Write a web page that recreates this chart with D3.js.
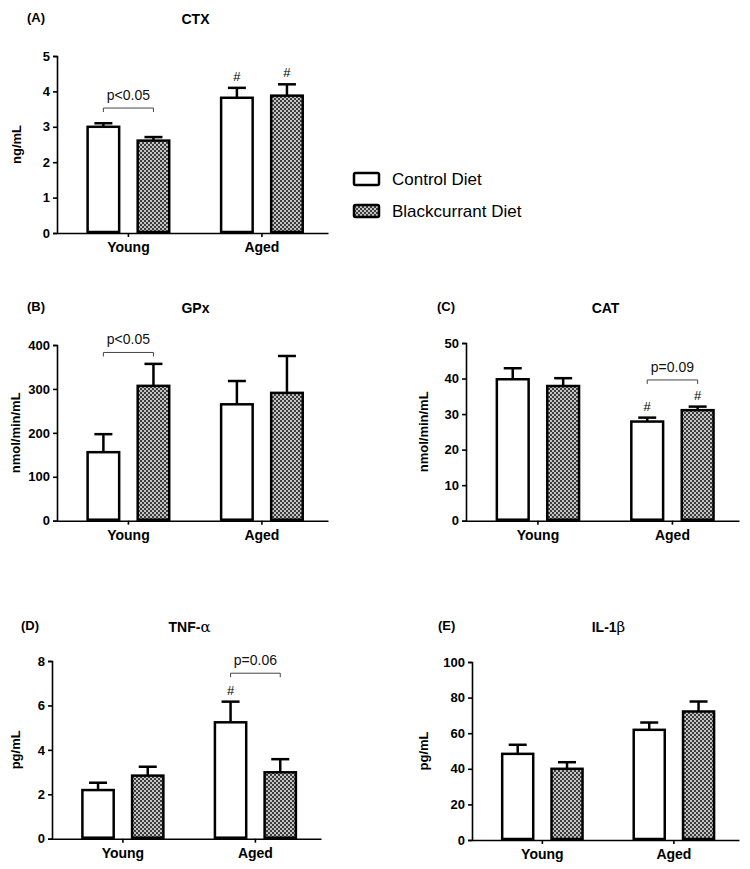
<!DOCTYPE html>
<html>
<head>
<meta charset="utf-8">
<script src="https://cdn.jsdelivr.net/npm/d3@7"></script>
<style>
  html, body { margin: 0; padding: 0; background: #fff; }
  svg { display: block; font-family: Arial, "Liberation Sans", sans-serif; }
</style>
</head>
<body>
<svg id="chart" width="750" height="869"></svg>
<script>
// ---------- data ----------
const groups = ["Young", "Aged"];
const seriesNames = ["Control Diet", "Blackcurrant Diet"];

const ctxControl = [3.0, 3.82];
const ctxControlErr = [0.1, 0.28];
const ctxBlack = [2.61, 3.88];
const ctxBlackErr = [0.1, 0.32];
const ctxTicks = [0, 1, 2, 3, 4, 5];

const gpxControl = [156, 265];
const gpxControlErr = [41, 53];
const gpxBlack = [307, 291];
const gpxBlackErr = [50, 84];
const gpxTicks = [0, 100, 200, 300, 400];

const catControl = [39.8, 27.9];
const catControlErr = [3.1, 1.1];
const catBlack = [37.9, 31.1];
const catBlackErr = [2.2, 1.0];
const catTicks = [0, 10, 20, 30, 40, 50];

const tnfControl = [2.19, 5.24];
const tnfControlErr = [0.33, 0.93];
const tnfBlack = [2.84, 2.99];
const tnfBlackErr = [0.4, 0.59];
const tnfTicks = [0, 2, 4, 6, 8];

const il1Control = [48.4, 61.9];
const il1ControlErr = [5.1, 4.1];
const il1Black = [40.0, 72.2];
const il1BlackErr = [3.7, 5.6];
const il1Ticks = [0, 20, 40, 60, 80, 100];

// significance marks "#": [groupIndex, seriesIndex]
const ctxHash = [[1, 0], [1, 1]];
const catHash = [[1, 0], [1, 1]];
const tnfHash = [[1, 0]];

// brackets: group, label, level (data units)
const ctxBracket = { group: 0, label: "p<0.05", level: 3.53 };
const gpxBracket = { group: 0, label: "p<0.05", level: 383 };
const catBracket = { group: 1, label: "p=0.09", level: 39.6 };
const tnfBracket = { group: 1, label: "p=0.06", level: 7.45 };

// ---------- drawing ----------
const svg = d3.select("#chart");
const defs = svg.append("defs");
const pat = defs.append("pattern").attr("id", "checker")
  .attr("patternUnits", "userSpaceOnUse").attr("width", 4).attr("height", 4);
pat.append("rect").attr("width", 4).attr("height", 4).attr("fill", "#c4c4c4");
pat.append("rect").attr("x", 0).attr("y", 0).attr("width", 2).attr("height", 2).attr("fill", "#3c3c3c");
pat.append("rect").attr("x", 2).attr("y", 2).attr("width", 2).attr("height", 2).attr("fill", "#3c3c3c");

const fills = ["#ffffff", "url(#checker)"];

function panel(cfg) {
  const { x0, x1, yTop, yBot, ticks, series, errs, hashes, bracket } = cfg;
  const g = svg.append("g");
  const y = d3.scaleLinear().domain([0, d3.max(ticks)]).range([yBot, yTop]);
  const xg = d3.scaleBand().domain(groups).range([x0, x1])
    .paddingInner(0.37).paddingOuter(0.2).align(0.55);
  const xs = d3.scaleBand().domain(seriesNames).range([0, xg.bandwidth()]).paddingInner(0.32);

  // y axis
  const yAxis = g.append("g").attr("transform", `translate(${x0},0)`)
    .call(d3.axisLeft(y).tickValues(ticks).tickSize(4).tickPadding(3).tickFormat(d3.format("d")));
  yAxis.select(".domain").attr("stroke", "#000").attr("stroke-width", 1.6);
  yAxis.selectAll(".tick line").attr("stroke", "#000").attr("stroke-width", 1.6);
  yAxis.selectAll("text").attr("font-size", 13).attr("font-weight", "bold")
    .attr("font-family", "Arial, 'Liberation Sans', sans-serif").attr("fill", "#000");

  // x axis
  const xAxis = g.append("g").attr("transform", `translate(0,${yBot})`)
    .call(d3.axisBottom(xg).tickSize(4).tickSizeOuter(0).tickPadding(5));
  xAxis.select(".domain").attr("stroke", "#000").attr("stroke-width", 1.6);
  xAxis.selectAll(".tick line").attr("stroke", "#000").attr("stroke-width", 1.6);
  xAxis.selectAll("text").attr("font-size", 14).attr("font-weight", "bold")
    .attr("font-family", "Arial, 'Liberation Sans', sans-serif").attr("fill", "#000");

  // bars
  const rows = [];
  groups.forEach((gr, gi) => {
    seriesNames.forEach((s, si) => {
      rows.push({ gr, gi, s, si, v: series[si][gi], e: errs[si][gi] });
    });
  });
  const bx = d => xg(d.gr) + xs(d.s);
  const bw = xs.bandwidth();

  // error bars (up only)
  g.selectAll(".err").data(rows).join("line")
    .attr("x1", d => bx(d) + bw / 2).attr("x2", d => bx(d) + bw / 2)
    .attr("y1", d => y(d.v)).attr("y2", d => y(d.v + d.e))
    .attr("stroke", "#000").attr("stroke-width", 2.5);
  g.selectAll(".cap").data(rows).join("line")
    .attr("x1", d => bx(d) + bw / 2 - 9).attr("x2", d => bx(d) + bw / 2 + 9)
    .attr("y1", d => y(d.v + d.e)).attr("y2", d => y(d.v + d.e))
    .attr("stroke", "#000").attr("stroke-width", 2.5);

  g.selectAll(".bar").data(rows).join("rect")
    .attr("x", d => bx(d) + 1.25).attr("width", bw - 2.5)
    .attr("y", d => y(d.v)).attr("height", d => yBot - y(d.v) - 1)
    .attr("fill", d => fills[d.si]).attr("stroke", "#000").attr("stroke-width", 2.5);

  // hashes
  (hashes || []).forEach(([gi, si]) => {
    const d = rows.find(r => r.gi === gi && r.si === si);
    g.append("text").attr("x", bx(d) + bw / 2).attr("y", y(d.v + d.e) - 7)
      .attr("text-anchor", "middle").attr("font-size", 13).text("#");
  });

  // bracket
  if (bracket) {
    const gr = groups[bracket.group];
    const xa = xg(gr) + xs(seriesNames[0]) + bw / 2;
    const xb = xg(gr) + xs(seriesNames[1]) + bw / 2;
    const yb = y(bracket.level);
    g.append("path")
      .attr("d", `M${xa},${yb + 4}V${yb}H${xb}V${yb + 4}`)
      .attr("fill", "none").attr("stroke", "#444").attr("stroke-width", 1);
    g.append("text").attr("x", (xa + xb) / 2).attr("y", yb - 8)
      .attr("text-anchor", "middle").attr("font-size", 14).attr("fill", "#111").text(bracket.label);
  }

  // panel label, title, y label
  g.append("text").attr("x", cfg.labX).attr("y", cfg.titleY)
    .attr("font-size", 13).attr("font-weight", "bold").text(cfg.label);
  const t = g.append("text").attr("x", (x0 + x1) / 2 + 3).attr("y", cfg.titleY + 2)
    .attr("text-anchor", "middle").attr("font-size", 14).attr("font-weight", "bold");
  t.append("tspan").text(cfg.title);
  if (cfg.greek) {
    t.append("tspan").attr("font-family", "'DejaVu Serif', 'Liberation Serif', serif")
      .attr("font-weight", "normal").attr("font-size", 15).text(cfg.greek);
  }
  g.append("text").attr("transform", `translate(${cfg.ylabX},${(yTop + yBot) / 2}) rotate(-90)`)
    .attr("text-anchor", "middle").attr("font-size", 13).attr("font-weight", "bold").text(cfg.ylab);
}

panel({ label: "(A)", labX: 27, title: "CTX", titleY: 22, ylab: "ng/mL", ylabX: 21,
  x0: 57, x1: 328, yTop: 56, yBot: 233, ticks: ctxTicks,
  series: [ctxControl, ctxBlack], errs: [ctxControlErr, ctxBlackErr],
  hashes: ctxHash, bracket: ctxBracket });

panel({ label: "(B)", labX: 27, title: "GPx", titleY: 311, ylab: "nmol/min/mL", ylabX: 20,
  x0: 57, x1: 328, yTop: 345, yBot: 520.7, ticks: gpxTicks,
  series: [gpxControl, gpxBlack], errs: [gpxControlErr, gpxBlackErr],
  hashes: [], bracket: gpxBracket });

panel({ label: "(C)", labX: 437, title: "CAT", titleY: 311, ylab: "nmol/min/mL", ylabX: 428,
  x0: 466, x1: 739, yTop: 343, yBot: 520.7, ticks: catTicks,
  series: [catControl, catBlack], errs: [catControlErr, catBlackErr],
  hashes: catHash, bracket: catBracket });

panel({ label: "(D)", labX: 21, title: "TNF-", greek: "α", titleY: 630, ylab: "pg/mL", ylabX: 20,
  x0: 52, x1: 321, yTop: 661, yBot: 838.7, ticks: tnfTicks,
  series: [tnfControl, tnfBlack], errs: [tnfControlErr, tnfBlackErr],
  hashes: tnfHash, bracket: tnfBracket });

panel({ label: "(E)", labX: 438, title: "IL-1", greek: "β", titleY: 630, ylab: "pg/mL", ylabX: 428,
  x0: 472, x1: 739, yTop: 662, yBot: 840, ticks: il1Ticks,
  series: [il1Control, il1Black], errs: [il1ControlErr, il1BlackErr],
  hashes: [], bracket: null });

// legend
const leg = svg.append("g");
seriesNames.forEach((s, i) => {
  const yy = 173 + i * 32;
  leg.append("rect").attr("x", 354).attr("y", yy).attr("width", 25).attr("height", 12)
    .attr("fill", fills[i]).attr("stroke", "#000").attr("stroke-width", 2.5).attr("rx", 1.5);
  leg.append("text").attr("x", 392).attr("y", yy + 12).attr("font-size", 17).text(s);
});
</script>
</body>
</html>
